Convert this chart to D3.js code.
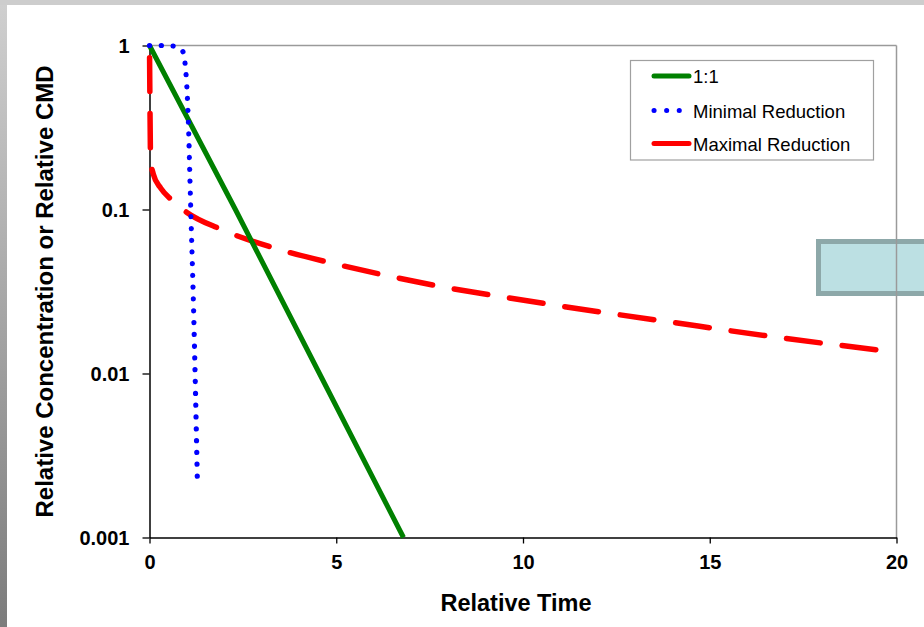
<!DOCTYPE html>
<html lang="en">
<head>
<meta charset="utf-8">
<title>Relative Concentration vs Relative Time</title>
<script src="https://cdnjs.cloudflare.com/ajax/libs/d3/7.8.5/d3.min.js"></script>
<style>
  body { margin:0; background:#fff; }
  svg { display:block; font-family:'Liberation Sans', Arial, sans-serif; }
</style>
</head>
<body>
<div id="chart"></div>
<script>
// values
var seriesNames = ["1:1", "Minimal Reduction", "Maximal Reduction"];

var oneToOneTime  = [0, 2.3, 4.55, 6.8];
var oneToOneValue = [1, 0.1, 0.01, 0.001];

var minimalTime  = [0, 0.35, 0.68, 0.88, 0.95, 1.03, 1.11, 1.18, 1.28];
var minimalValue = [1, 1, 0.99, 0.93, 0.785, 0.40, 0.091, 0.025, 0.0023];

var maximalTime  = [0, 0.01, 0.03, 0.1, 0.3, 0.6, 1.0, 1.9, 3.36, 4.9, 6.4, 7.9, 9.5, 11, 14, 17, 20];
var maximalValue = [1, 0.5, 0.2, 0.165, 0.135, 0.114, 0.096, 0.076, 0.058, 0.047, 0.0393, 0.0336, 0.0292, 0.0258, 0.0205, 0.0164, 0.0135];

var xTicks = [0, 5, 10, 15, 20];
var yTicks = [1, 0.1, 0.01, 0.001];
var yTickLabels = ["1", "0.1", "0.01", "0.001"];

var width = 924, height = 627;
var plotLeft = 149.5, plotRight = 896.5, plotTop = 45.5, plotBottom = 537.5;

var svg = d3.select("#chart").append("svg")
    .attr("width", width)
    .attr("height", height);

// slide leftovers: grey top band, shaded left edge, teal box behind the chart
var grad = svg.append("defs").append("linearGradient")
    .attr("id", "edge").attr("x1", 0).attr("y1", 0).attr("x2", 0).attr("y2", 1);
grad.append("stop").attr("offset", "0%").attr("stop-color", "#cfcfcf");
grad.append("stop").attr("offset", "100%").attr("stop-color", "#7c7c7c");

svg.append("rect").attr("x", 0).attr("y", 0).attr("width", width).attr("height", 5).attr("fill", "#cdcdcd");
svg.append("rect").attr("x", 0).attr("y", 5).attr("width", 7).attr("height", height - 5).attr("fill", "url(#edge)");

svg.append("rect")
    .attr("x", 818.5).attr("y", 241.5)
    .attr("width", 130).attr("height", 52)
    .attr("fill", "#bce0e3")
    .attr("stroke", "#8da8a9")
    .attr("stroke-width", 5);

var x = d3.scaleLinear().domain([0, 20]).range([plotLeft, plotRight]);
var y = d3.scaleLog().domain([0.001, 1]).range([plotBottom, plotTop]);

// plot frame: grey top/right, black axes
svg.append("line").attr("x1", plotLeft).attr("x2", plotRight).attr("y1", plotTop).attr("y2", plotTop)
    .attr("stroke", "#9a9a9a").attr("stroke-width", 1.5);
svg.append("line").attr("x1", plotRight).attr("x2", plotRight).attr("y1", plotTop).attr("y2", plotBottom)
    .attr("stroke", "#9a9a9a").attr("stroke-width", 1.5);

var xAxis = svg.append("g")
    .attr("transform", "translate(0," + plotBottom + ")")
    .call(d3.axisBottom(x).tickValues(xTicks).tickSize(6).tickSizeOuter(0).tickFormat(d3.format("d")));

var yAxis = svg.append("g")
    .attr("transform", "translate(" + plotLeft + ",0)")
    .call(d3.axisLeft(y).tickValues(yTicks).tickSize(7).tickSizeOuter(0)
        .tickFormat(function(d, i) { return yTickLabels[i]; }));

[xAxis, yAxis].forEach(function(g) {
    g.select(".domain").attr("stroke", "#000").attr("stroke-width", 1.5);
    g.selectAll(".tick line").attr("stroke", "#000").attr("stroke-width", 1.3);
    g.selectAll(".tick text")
        .attr("fill", "#000")
        .style("font-family", "'Liberation Sans', Arial, sans-serif")
        .style("font-size", "20px")
        .style("font-weight", "bold");
});
xAxis.selectAll(".tick text").attr("y", 17).attr("dy", "0.71em");
yAxis.selectAll(".tick text").attr("x", -20).attr("dy", "0.36em");

// axis titles
svg.append("text")
    .attr("x", (plotLeft + plotRight) / 2 - 7)
    .attr("y", 611)
    .attr("text-anchor", "middle")
    .style("font-size", "23.5px").style("font-weight", "bold")
    .text("Relative Time");

svg.append("text")
    .attr("transform", "translate(52.5," + ((plotTop + plotBottom) / 2) + ") rotate(-90)")
    .attr("text-anchor", "middle")
    .style("font-size", "24px").style("font-weight", "bold")
    .text("Relative Concentration or Relative CMD");

// series
function toPoints(ts, vs) {
    return ts.map(function(t, i) { return [t, vs[i]]; });
}

var line = d3.line()
    .x(function(d) { return x(d[0]); })
    .y(function(d) { return y(d[1]); });

var smooth = d3.line()
    .curve(d3.curveMonotoneX)
    .x(function(d) { return x(d[0]); })
    .y(function(d) { return y(d[1]); });

svg.append("path")
    .attr("d", smooth(toPoints(maximalTime, maximalValue)))
    .attr("fill", "none")
    .attr("stroke", "#ff0000")
    .attr("stroke-width", 5.5)
    .attr("stroke-linecap", "round")
    .attr("stroke-dasharray", "34,22")
    .attr("stroke-dashoffset", 44);

svg.append("path")
    .attr("d", line(toPoints(oneToOneTime, oneToOneValue)))
    .attr("fill", "none")
    .attr("stroke", "#008000")
    .attr("stroke-width", 5);

svg.append("path")
    .attr("d", smooth(toPoints(minimalTime, minimalValue)))
    .attr("fill", "none")
    .attr("stroke", "#0000ff")
    .attr("stroke-width", 5.2)
    .attr("stroke-linecap", "round")
    .attr("stroke-dasharray", "0.1,11.7");

// legend
var legend = svg.append("g");
legend.append("rect")
    .attr("x", 630.5).attr("y", 60.5)
    .attr("width", 243).attr("height", 99.5)
    .attr("fill", "#fff")
    .attr("stroke", "#a0a0a0")
    .attr("stroke-width", 1.2);

var legendY = [76, 110.5, 143.5];
var legendStyle = [
    { color: "#008000", dash: null, x2: 689 },
    { color: "#0000ff", dash: "0.1,12.5", x2: 680 },
    { color: "#ff0000", dash: null, x2: 689 }
];

seriesNames.forEach(function(name, i) {
    legend.append("line")
        .attr("x1", 654).attr("x2", legendStyle[i].x2)
        .attr("y1", legendY[i]).attr("y2", legendY[i])
        .attr("stroke", legendStyle[i].color)
        .attr("stroke-width", 5)
        .attr("stroke-linecap", "round")
        .attr("stroke-dasharray", legendStyle[i].dash);
    legend.append("text")
        .attr("x", 693)
        .attr("y", legendY[i] + 1)
        .attr("dy", "0.35em")
        .style("font-size", "18.5px")
        .attr("fill", "#000")
        .text(name);
});
</script>
</body>
</html>
